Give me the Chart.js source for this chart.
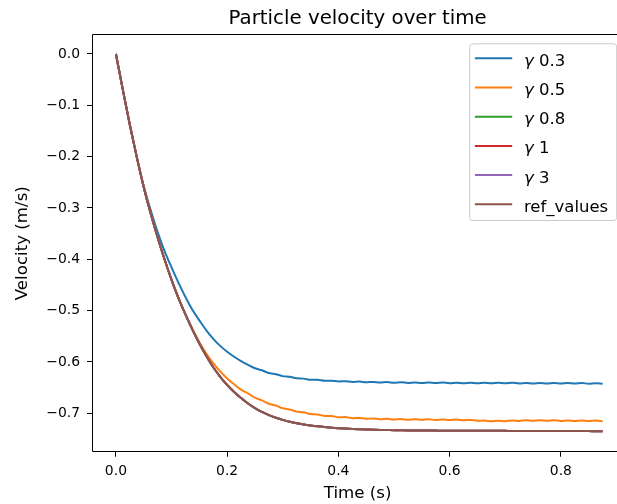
<!DOCTYPE html>
<html><head><meta charset="utf-8">
<script src="https://cdn.jsdelivr.net/npm/chart.js@4.4.1/dist/chart.umd.min.js"></script>
<style>html,body{margin:0;padding:0;overflow:hidden;background:#fff;width:617px;height:504px}#wrap{position:relative;width:617px;height:504px;overflow:hidden}canvas{display:block;position:absolute;left:0;top:0}</style>
</head><body>
<div id="wrap"><canvas id="c" width="640" height="504"></canvas></div>
<script>
const chartTitle = 'Particle velocity over time';
const xAxisTitle = 'Time (s)';
const yAxisTitle = 'Velocity (m/s)';
const seriesLabels = ['γ 0.3', 'γ 0.5', 'γ 0.8', 'γ 1', 'γ 3', 'ref_values'];
const seriesColors = ['#1f77b4', '#ff7f0e', '#2ca02c', '#d62728', '#9467bd', '#8c564b'];
const xTicks = [0, 0.2, 0.4, 0.6, 0.8];
const xTickLabels = ['0.0', '0.2', '0.4', '0.6', '0.8'];
const yTicks = [0, -0.1, -0.2, -0.3, -0.4, -0.5, -0.6, -0.7];
const yTickLabels = ['0.0', '−0.1', '−0.2', '−0.3', '−0.4', '−0.5', '−0.6', '−0.7'];

const time = [0,0.0125,0.025,0.0375,0.05,0.0625,0.075,0.0875,0.1,0.1125,
0.125,0.1375,0.15,0.1625,0.175,0.1875,0.2,0.2125,0.225,0.2375,
0.25,0.2625,0.275,0.2875,0.3,0.3125,0.325,0.3375,0.35,0.3625,
0.375,0.3875,0.4,0.4125,0.425,0.4375,0.45,0.4625,0.475,0.4875,
0.5,0.5125,0.525,0.5375,0.55,0.5625,0.575,0.5875,0.6,0.6125,
0.625,0.6375,0.65,0.6625,0.675,0.6875,0.7,0.7125,0.725,0.7375,
0.75,0.7625,0.775,0.7875,0.8,0.8125,0.825,0.8375,0.85,0.8625,
0.875];

const gamma03 = [0,-0.070,-0.138,-0.200,-0.257,-0.304,-0.347,-0.384,-0.416,-0.446,
-0.4735,-0.4985,-0.519,-0.5385,-0.555,-0.5688,-0.5803,-0.590,-0.5985,-0.6058,
-0.6124,-0.6164,-0.6215,-0.6239,-0.6277,-0.6291,-0.632,-0.6326,-0.6349,-0.6349,
-0.6368,-0.6366,-0.6382,-0.6377,-0.6391,-0.6384,-0.6397,-0.639,-0.6402,-0.6394,
-0.6406,-0.6398,-0.6409,-0.6400,-0.6411,-0.6402,-0.6413,-0.6403,-0.6414,-0.6404,
-0.6415,-0.6405,-0.6416,-0.6406,-0.6417,-0.6407,-0.6418,-0.6408,-0.6419,-0.6409,
-0.6420,-0.6410,-0.6421,-0.6411,-0.6422,-0.6412,-0.6423,-0.6413,-0.6424,-0.6414,
-0.6425];

const gamma05 = [0,-0.070,-0.138,-0.201,-0.2595,-0.311,-0.3575,-0.4005,-0.440,-0.4755,
-0.5075,-0.5355,-0.5615,-0.5835,-0.6025,-0.6185,-0.6322,-0.6437,-0.6541,-0.6614,
-0.6698,-0.6749,-0.6816,-0.6851,-0.6904,-0.6927,-0.6969,-0.6983,-0.7017,-0.7024,
-0.7052,-0.7054,-0.7078,-0.7076,-0.7096,-0.7091,-0.7109,-0.7102,-0.7118,-0.7109,
-0.7124,-0.7114,-0.7127,-0.7117,-0.7129,-0.7119,-0.7131,-0.7121,-0.7133,-0.7124,
-0.7138,-0.7130,-0.7148,-0.7142,-0.7158,-0.7148,-0.7156,-0.7142,-0.7150,-0.7138,
-0.7146,-0.7136,-0.7146,-0.7138,-0.7150,-0.7140,-0.7152,-0.7142,-0.7154,-0.7144,
-0.7155];

const gamma08 = [0,-0.070,-0.138,-0.201,-0.2595,-0.311,-0.3575,-0.4005,-0.440,-0.4755,
-0.5075,-0.537,-0.564,-0.5885,-0.6105,-0.629,-0.645,-0.6585,-0.6705,-0.681,
-0.690,-0.6975,-0.7037,-0.7088,-0.713,-0.7165,-0.7194,-0.7218,-0.7238,-0.7255,
-0.7269,-0.7281,-0.7291,-0.7299,-0.7306,-0.7312,-0.7317,-0.7321,-0.7325,-0.7328,
-0.7331,-0.7333,-0.7335,-0.7336,-0.7337,-0.7338,-0.7339,-0.734,-0.734,-0.7341,
-0.7341,-0.7342,-0.7342,-0.7343,-0.7343,-0.7344,-0.7344,-0.7345,-0.7345,-0.7346,
-0.7346,-0.7347,-0.7347,-0.7348,-0.7348,-0.7348,-0.7349,-0.7349,-0.7349,-0.735,
-0.735];

const gamma1 = [0,-0.070,-0.138,-0.201,-0.2595,-0.311,-0.3575,-0.4005,-0.440,-0.4755,
-0.5075,-0.537,-0.564,-0.5885,-0.6105,-0.629,-0.645,-0.6585,-0.6705,-0.681,
-0.690,-0.6975,-0.7037,-0.7088,-0.713,-0.7165,-0.7194,-0.7218,-0.7238,-0.7255,
-0.7269,-0.7281,-0.7291,-0.7299,-0.7306,-0.7312,-0.7317,-0.7321,-0.7325,-0.7328,
-0.7331,-0.7333,-0.7335,-0.7336,-0.7337,-0.7338,-0.7339,-0.734,-0.734,-0.7341,
-0.7341,-0.7342,-0.7342,-0.7343,-0.7343,-0.7344,-0.7344,-0.7345,-0.7345,-0.7346,
-0.7346,-0.7347,-0.7347,-0.7348,-0.7348,-0.7348,-0.7349,-0.7349,-0.7349,-0.735,
-0.735];

const gamma3 = [0,-0.070,-0.138,-0.201,-0.2595,-0.311,-0.3575,-0.4005,-0.440,-0.4755,
-0.5075,-0.537,-0.564,-0.5885,-0.6105,-0.629,-0.645,-0.6585,-0.6705,-0.681,
-0.690,-0.6975,-0.7037,-0.7088,-0.713,-0.7165,-0.7194,-0.7218,-0.7238,-0.7255,
-0.7269,-0.7281,-0.7291,-0.7299,-0.7306,-0.7312,-0.7317,-0.7321,-0.7325,-0.7328,
-0.7331,-0.7333,-0.7335,-0.7336,-0.7337,-0.7338,-0.7339,-0.734,-0.734,-0.7341,
-0.7341,-0.7342,-0.7342,-0.7343,-0.7343,-0.7344,-0.7344,-0.7345,-0.7345,-0.7346,
-0.7346,-0.7347,-0.7347,-0.7348,-0.7348,-0.7348,-0.7349,-0.7349,-0.7349,-0.735,
-0.735];

const refValues = [0,-0.070,-0.138,-0.201,-0.2595,-0.311,-0.3575,-0.4005,-0.440,-0.4755,
-0.5075,-0.537,-0.564,-0.5885,-0.6105,-0.629,-0.645,-0.6585,-0.6705,-0.681,
-0.690,-0.6975,-0.7037,-0.7088,-0.713,-0.7165,-0.7194,-0.7218,-0.7238,-0.7255,
-0.7269,-0.7281,-0.7291,-0.7299,-0.7306,-0.7312,-0.7317,-0.7321,-0.7325,-0.7328,
-0.7331,-0.7333,-0.7335,-0.7336,-0.7337,-0.7338,-0.7339,-0.734,-0.734,-0.7341,
-0.7341,-0.7342,-0.7342,-0.7343,-0.7343,-0.7344,-0.7344,-0.7345,-0.7345,-0.7346,
-0.7346,-0.7347,-0.7347,-0.7348,-0.7348,-0.7348,-0.7349,-0.7349,-0.7349,-0.735,
-0.735];

const series = [gamma03, gamma05, gamma08, gamma1, gamma3, refValues];
const FONT = '"DejaVu Sans", sans-serif';
Chart.defaults.font.family = FONT;
Chart.defaults.color = '#000';

const datasets = series.map((s, i) => ({
  label: seriesLabels[i],
  data: time.map((t, k) => ({x: t, y: s[k]})),
  borderColor: seriesColors[i],
  backgroundColor: seriesColors[i],
  borderWidth: 2,
  pointRadius: 0,
  fill: false,
  tension: 0,
  cubicInterpolationMode: 'monotone',
  order: series.length - 1 - i
}));

const mplPlugin = {
  id: 'mpl',
  afterDatasetsDraw(chart) {
    const ctx = chart.ctx, a = chart.chartArea;
    ctx.save();
    ctx.strokeStyle = '#000';
    ctx.lineWidth = 1;
    const l = Math.round(a.left) + 0.5, t = Math.floor(a.top) + 0.5;
    const r = Math.round(a.right) + 0.5, b = Math.floor(a.bottom) + 0.5;
    ctx.beginPath();
    ctx.moveTo(r, t); ctx.lineTo(l, t); ctx.lineTo(l, b); ctx.lineTo(r, b);
    ctx.stroke();
    ctx.restore();
  },
  afterDraw(chart) {
    const ctx = chart.ctx, a = chart.chartArea;
    ctx.save();
    // title
    ctx.fillStyle = '#000';
    ctx.font = '19.8px ' + FONT;
    ctx.textAlign = 'center';
    ctx.textBaseline = 'alphabetic';
    ctx.fillText(chartTitle, (a.left + a.right) / 2, 24);
    // legend
    const right = a.right - 7, left = right - 147, top = a.top + 8.6, bottom = top + 176.7;
    ctx.beginPath();
    if (ctx.roundRect) ctx.roundRect(left + 0.5, top + 0.5, right - left, bottom - top, 3);
    else ctx.rect(left + 0.5, top + 0.5, right - left, bottom - top);
    ctx.fillStyle = 'rgba(255,255,255,0.8)';
    ctx.fill();
    ctx.strokeStyle = '#cccccc';
    ctx.lineWidth = 1;
    ctx.stroke();
    chart.data.datasets.forEach((ds, i) => {
      const y = top + 15 + i * 29.2;
      ctx.beginPath();
      ctx.strokeStyle = ds.borderColor;
      ctx.lineWidth = 2;
      ctx.moveTo(left + 5.7, y);
      ctx.lineTo(left + 43, y);
      ctx.stroke();
      ctx.fillStyle = '#000';
      ctx.textAlign = 'left';
      ctx.textBaseline = 'alphabetic';
      let x = left + 54.7;
      let label = ds.label;
      if (label.startsWith('γ')) {
        ctx.font = 'italic 16.5px ' + FONT;
        ctx.fillText('γ', x, y + 7.4);
        x += ctx.measureText('γ').width;
        label = label.slice(1);
      }
      ctx.font = '16.5px ' + FONT;
      ctx.fillText(label, x, y + 7.4);
    });
    ctx.restore();
  }
};

new Chart(document.getElementById('c'), {
  type: 'line',
  data: {datasets},
  plugins: [mplPlugin],
  options: {
    responsive: false,
    animation: false,
    devicePixelRatio: 1,
    layout: {padding: {left: 0, top: 34.7, right: 16.8, bottom: 0}},
    plugins: {legend: {display: false}, tooltip: {enabled: false}, title: {display: false}},
    scales: {
      x: {
        type: 'linear',
        min: -0.043,
        max: 0.912,
        afterBuildTicks: s => { s.ticks = xTicks.map(v => ({value: v})); },
        afterFit: s => { s.height = 52.3; },
        ticks: {
          callback: (v, i) => xTickLabels[i],
          font: {size: 13.9},
          color: '#000',
          padding: 6,
          maxRotation: 0,
          autoSkip: false
        },
        grid: {drawOnChartArea: false, drawTicks: true, tickLength: 5, tickWidth: 1, tickColor: '#000'},
        border: {display: false},
        title: {display: true, text: xAxisTitle, font: {size: 16.67}, color: '#000', padding: {top: 0, bottom: 0}}
      },
      y: {
        type: 'linear',
        min: -0.775,
        max: 0.0376,
        afterBuildTicks: s => { s.ticks = yTicks.map(v => ({value: v})); },
        afterFit: s => { s.width = 92; },
        ticks: {
          callback: (v, i) => yTickLabels[i],
          font: {size: 13.9},
          color: '#000',
          padding: 7,
          autoSkip: false
        },
        grid: {drawOnChartArea: false, drawTicks: true, tickLength: 5, tickWidth: 1, tickColor: '#000'},
        border: {display: false},
        title: {display: true, text: yAxisTitle, font: {size: 16.67}, color: '#000', padding: {top: 12.5, bottom: 0}}
      }
    }
  }
});
</script>
</body></html>
